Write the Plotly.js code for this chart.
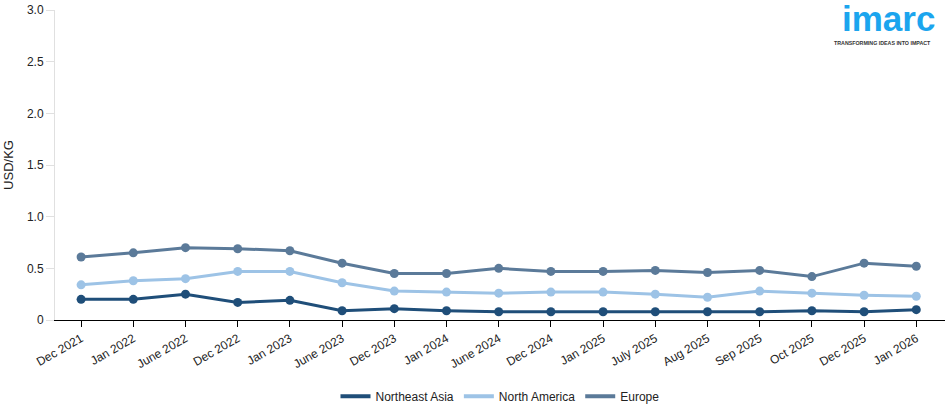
<!DOCTYPE html>
<html>
<head>
<meta charset="utf-8">
<script src="https://cdn.plot.ly/plotly-3.0.1.min.js"></script>
<style>html,body{margin:0;padding:0;background:#fff;}#chart{width:950px;height:414px;}</style>
</head>
<body>
<div id="chart"></div>
<script>
const categories = ["Dec 2021","Jan 2022","June 2022","Dec 2022","Jan 2023","June 2023","Dec 2023","Jan 2024","June 2024","Dec 2024","Jan 2025","July 2025","Aug 2025","Sep 2025","Oct 2025","Dec 2025","Jan 2026"];
const northeastAsia = [0.20,0.20,0.25,0.17,0.19,0.09,0.11,0.09,0.08,0.08,0.08,0.08,0.08,0.08,0.09,0.08,0.10];
const northAmerica = [0.34,0.38,0.40,0.47,0.47,0.36,0.28,0.27,0.26,0.27,0.27,0.25,0.22,0.28,0.26,0.24,0.23];
const europe = [0.61,0.65,0.70,0.69,0.67,0.55,0.45,0.45,0.50,0.47,0.47,0.48,0.46,0.48,0.42,0.55,0.52];
const seriesNames = ["Northeast Asia","North America","Europe"];
const seriesColors = ["#1f4e79","#9dc3e6","#5b7a99"];
const yTickVals = [0,0.5,1,1.5,2,2.5,3];
const yTickText = ["0","0.5","1.0","1.5","2.0","2.5","3.0"];

const seriesValues = [northeastAsia, northAmerica, europe];
const data = [];
seriesValues.forEach((y, i) => {
  data.push({
    x: categories, y: y, name: seriesNames[i], type: "scatter", mode: "lines+markers",
    line: {color: seriesColors[i], width: 3}, marker: {color: seriesColors[i], size: 9},
    showlegend: false
  });
});
seriesValues.forEach((y, i) => {
  data.push({
    x: [null], y: [null], name: seriesNames[i], type: "scatter", mode: "lines",
    line: {color: seriesColors[i], width: 4}, showlegend: true
  });
});
const layout = {
  width: 950, height: 414,
  margin: {l: 55, r: 5, t: 10, b: 94, autoexpand: false},
  paper_bgcolor: "#fff", plot_bgcolor: "#fff",
  font: {family: "Liberation Sans, Arial, sans-serif", size: 12, color: "#222"},
  showlegend: true,
  legend: {orientation: "h", x: 0.5, xanchor: "center", y: -0.199, yanchor: "top",
           font: {size: 12, color: "#222"}, itemwidth: 30, traceorder: "normal"},
  xaxis: {
    type: "category", range: [-0.5, 16.55], showgrid: false, zeroline: false, automargin: false,
    showline: true, linecolor: "#000", linewidth: 1,
    ticks: "outside", ticklen: 6, tickcolor: "#000", tickangle: -30,
    tickfont: {size: 12, color: "#222"}
  },
  yaxis: {
    range: [0, 3], tickvals: yTickVals, ticktext: yTickText, showgrid: false, zeroline: false, automargin: false,
    showline: true, linecolor: "#e0e0e0", linewidth: 1,
    ticks: "outside", ticklen: 8, tickcolor: "#e0e0e0",
    tickfont: {size: 12, color: "#222"},
    title: {text: "USD/KG", font: {size: 13, color: "#222"}, standoff: 10}
  },
  annotations: [
    {xref: "paper", yref: "paper", x: 1, y: 1.0, xanchor: "right", yanchor: "top", showarrow: false,
     xshift: -8, yshift: 13, text: "<b>imarc</b>", font: {family: "Liberation Sans, Arial, sans-serif", size: 35, color: "#1ba5ee"}},
    {xref: "paper", yref: "paper", x: 1, y: 1.0, xanchor: "right", yanchor: "top", showarrow: false,
     xshift: -12, yshift: -28, text: "<b>TRANSFORMING IDEAS INTO IMPACT</b>", font: {family: "Liberation Sans, Arial, sans-serif", size: 5.3, color: "#333"}}
  ]
};
Plotly.newPlot("chart", data, layout, {displayModeBar: false, staticPlot: true});
</script>
</body>
</html>
